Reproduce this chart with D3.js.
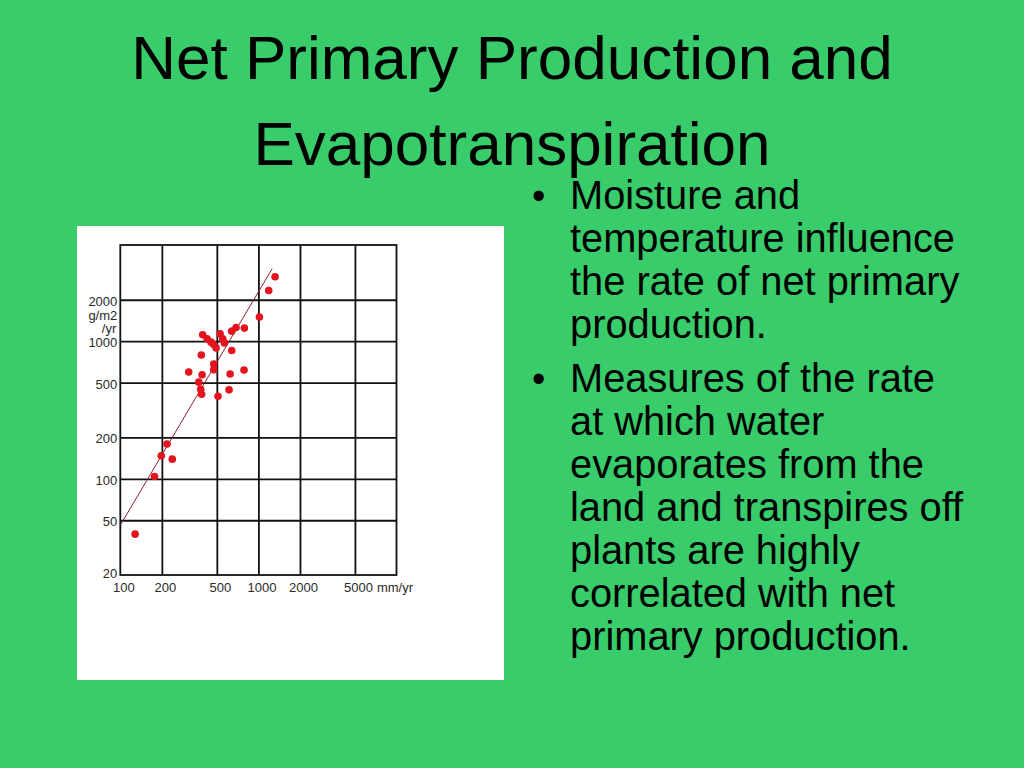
<!DOCTYPE html>
<html>
<head>
<meta charset="utf-8">
<script src="https://cdn.jsdelivr.net/npm/d3@7"></script>
<style>
  html, body { margin: 0; padding: 0; background: #38cc6a; }
  svg { display: block; }
</style>
</head>
<body>
<div id="slide"></div>
<script>
// evapotranspiration (mm/yr) vs net primary production (g/m2/yr)
const evapo = [1321, 1188, 1017, 792, 689, 641, 528, 552, 567, 395, 425, 454, 475, 494,
  641, 386, 475, 475, 313, 391, 624, 787, 370, 382, 388, 510, 613, 218, 198, 238, 177, 128];
const npp = [2940, 2336, 1499, 1245, 1259, 1183, 1132, 1040, 972, 1113, 1040, 984, 946, 894,
  855, 794, 683, 621, 597, 570, 577, 617, 504, 448, 412, 398, 443, 179, 147, 139, 104, 39.6];

// fitted line end points
const fitX = [100, 1257];
const fitY = [46, 3360];

const xTicks = [100, 200, 500, 1000, 2000, 5000];
const yTicks = [20, 50, 100, 200, 500, 1000, 2000];
const xGrid = [200, 500, 1000, 2000, 5000];
const yGrid = [50, 100, 200, 500, 1000, 2000];

const titleLines = ['Net Primary Production and', 'Evapotranspiration'];
const bullets = [
  ['Moisture and', 'temperature influence', 'the rate of net primary', 'production.'],
  ['Measures of the rate', 'at which water', 'evaporates from the', 'land and transpires off',
   'plants are highly', 'correlated with net', 'primary production.']
];

const svg = d3.select('#slide').append('svg')
  .attr('width', 1024)
  .attr('height', 768);

svg.append('rect')
  .attr('width', 1024).attr('height', 768)
  .attr('fill', '#38cc6a');

// title
svg.append('g').selectAll('text')
  .data(titleLines)
  .enter().append('text')
  .attr('x', 512)
  .attr('y', (d, i) => 79 + i * 86)
  .attr('text-anchor', 'middle')
  .style('font-family', 'Arial, "Liberation Sans", sans-serif')
  .style('font-size', '62px')
  .text(d => d);

// bullet list
let lineY = 209;
bullets.forEach((lines, bi) => {
  if (bi > 0) lineY += 11;
  svg.append('text')
    .attr('x', 532).attr('y', lineY)
    .style('font-family', 'Arial, "Liberation Sans", sans-serif')
    .style('font-size', '38px')
    .text('\u2022');
  lines.forEach(t => {
    svg.append('text')
      .attr('x', 570).attr('y', lineY)
      .style('font-family', 'Arial, "Liberation Sans", sans-serif')
      .style('font-size', '39.8px')
      .text(t);
    lineY += 43;
  });
});

// white picture panel
svg.append('rect')
  .attr('x', 77).attr('y', 226)
  .attr('width', 427).attr('height', 454)
  .attr('fill', '#ffffff');

// chart
const plot = {left: 120.3, top: 245, right: 396.5, bottom: 575};
const x = d3.scaleLog().domain([100, 10000]).range([plot.left, plot.right]);
const y = d3.scaleLog().domain([20, 5000]).range([plot.bottom, plot.top]);
const h = plot.bottom - plot.top;
const w = plot.right - plot.left;

const chart = svg.append('g');

// grid lines
chart.append('g')
  .attr('transform', `translate(0,${plot.bottom})`)
  .call(d3.axisBottom(x).tickValues(xGrid).tickSize(-h).tickFormat(''))
  .call(g => g.select('.domain').remove())
  .selectAll('line').attr('stroke', '#111').attr('stroke-width', 1.8);

chart.append('g')
  .attr('transform', `translate(${plot.left},0)`)
  .call(d3.axisLeft(y).tickValues(yGrid).tickSize(-w).tickFormat(''))
  .call(g => g.select('.domain').remove())
  .selectAll('line').attr('stroke', '#111').attr('stroke-width', 1.8);

chart.append('rect')
  .attr('x', plot.left).attr('y', plot.top)
  .attr('width', w).attr('height', h)
  .attr('fill', 'none')
  .attr('stroke', '#111')
  .attr('stroke-width', 1.8);

// tick labels
const labelFont = g => g
  .style('font-family', 'Arial, "Liberation Sans", sans-serif')
  .style('font-size', '13px')
  .style('fill', '#2a2a2a');

const yAxis = chart.append('g')
  .attr('transform', `translate(${plot.left},0)`)
  .call(d3.axisLeft(y).tickValues(yTicks).tickSize(0).tickPadding(3).tickFormat(d3.format('d')));
yAxis.select('.domain').remove();
yAxis.selectAll('text').call(labelFont).attr('dy', d => d === 20 ? '0.2em' : '0.42em');

const xAxis = chart.append('g')
  .attr('transform', `translate(0,${plot.bottom})`)
  .call(d3.axisBottom(x).tickValues(xTicks).tickSize(0).tickPadding(8).tickFormat(d3.format('d')));
xAxis.select('.domain').remove();
xAxis.selectAll('text').call(labelFont).attr('dx', 3);

// unit labels
chart.append('text')
  .attr('x', plot.left - 3).attr('y', y(2000) + 20)
  .attr('text-anchor', 'end')
  .call(labelFont)
  .text('g/m2');
chart.append('text')
  .attr('x', plot.left - 4).attr('y', y(2000) + 33)
  .attr('text-anchor', 'end')
  .call(labelFont)
  .text('/yr');
chart.append('text')
  .attr('x', x(5000) + 22).attr('y', plot.bottom + 17)
  .call(labelFont)
  .text('mm/yr');

// fitted line
chart.append('line')
  .attr('x1', x(fitX[0])).attr('y1', y(fitY[0]))
  .attr('x2', x(fitX[1])).attr('y2', y(fitY[1]))
  .attr('stroke', '#8e1f32')
  .attr('stroke-width', 1);

// points
chart.selectAll('.pt')
  .data(evapo)
  .enter().append('circle')
  .attr('class', 'pt')
  .attr('cx', d => x(d))
  .attr('cy', (d, i) => y(npp[i]))
  .attr('r', 3.8)
  .attr('fill', '#e3141e');
</script>
</body>
</html>
